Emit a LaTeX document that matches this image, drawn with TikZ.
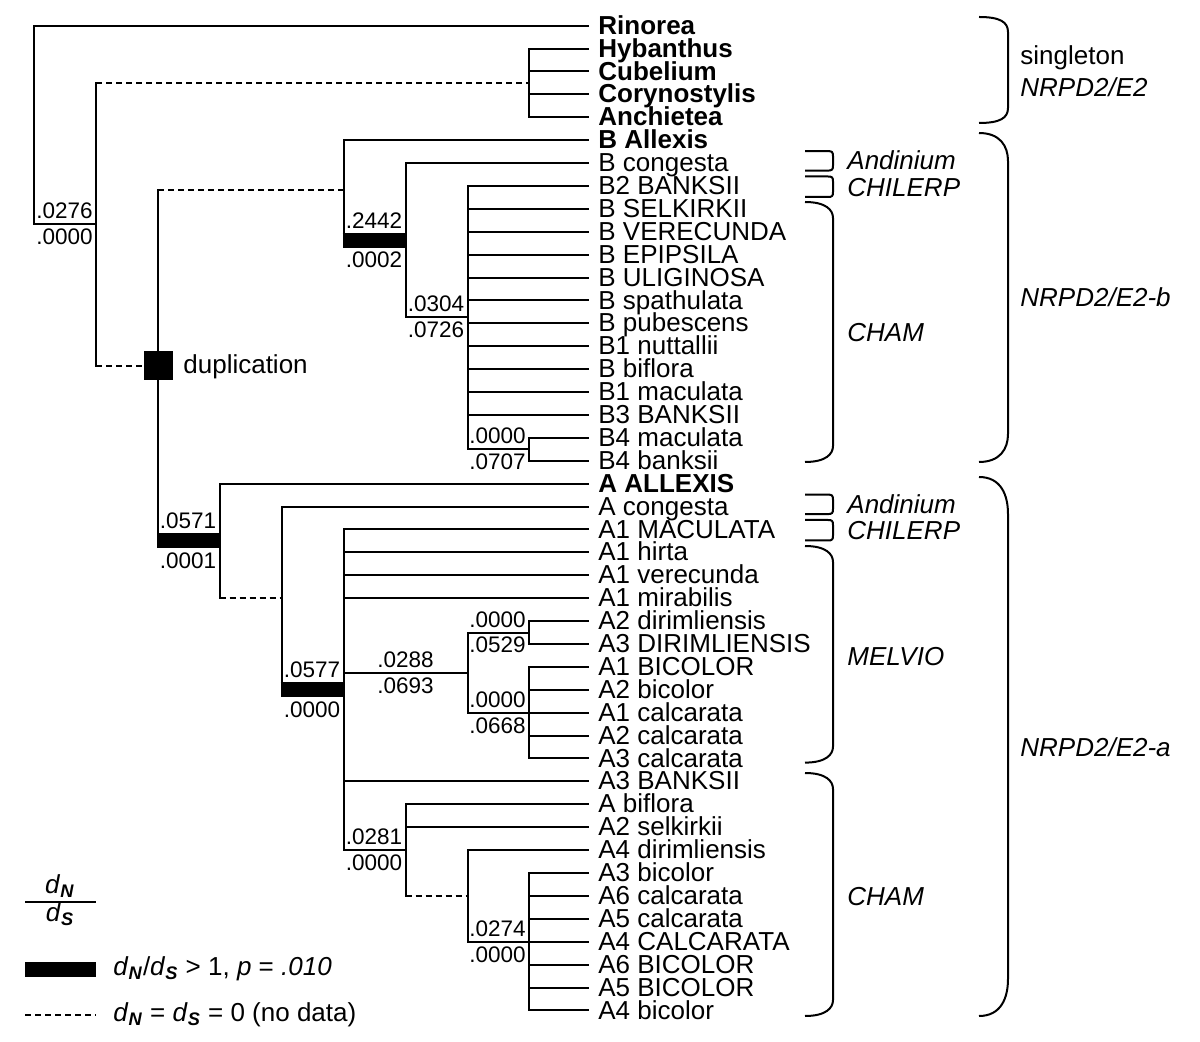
\documentclass[tikz,border=0pt]{standalone}
\usepackage{fontspec}
\setmainfont{Liberation Sans}
\newcommand{\dNx}{\textit{d}\textsubscript{\textbf{\textit{N}}}}
\newcommand{\dSx}{\textit{d}\textsubscript{\textbf{\textit{S}}}}
\begin{document}
\begin{tikzpicture}[x=0.5pt,y=-0.5pt,
  tree/.style={line width=1pt, line cap=rect},
  nodata/.style={line width=1pt, dash pattern=on 3pt off 2pt},
  selbar/.style={line width=7.5pt, shorten <=-0.5pt, shorten >=-0.5pt},
  leafn/.style={anchor=base west, inner sep=0pt, font=\fontsize{13}{14}\selectfont},
  leafb/.style={anchor=base west, inner sep=0pt, font=\fontsize{13}{14}\selectfont\bfseries},
  grp/.style={anchor=base west, inner sep=0pt, font=\fontsize{13}{14}\selectfont\itshape},
  grpu/.style={anchor=base west, inner sep=0pt, font=\fontsize{13}{14}\selectfont},
  labup/.style={anchor=base east, inner sep=0pt, font=\fontsize{11.25}{12}\selectfont},
  labdn/.style={anchor=north east, inner sep=0pt, font=\fontsize{11.25}{12}\selectfont},
  brk/.style={line width=1pt},
]
\useasboundingbox (0,0) rectangle (1200,1042);

% ---------- leaves ----------
\foreach \i/\t/\s in {
 0/Rinorea/leafb, 1/Hybanthus/leafb, 2/Cubelium/leafb, 3/Corynostylis/leafb, 4/Anchietea/leafb,
 5/B Allexis/leafb, 6/B congesta/leafn, 7/B2 BANKSII/leafn, 8/B SELKIRKII/leafn, 9/B VERECUNDA/leafn,
 10/B EPIPSILA/leafn, 11/B ULIGINOSA/leafn, 12/B spathulata/leafn, 13/B pubescens/leafn,
 14/B1 nuttallii/leafn, 15/B biflora/leafn, 16/B1 maculata/leafn, 17/B3 BANKSII/leafn,
 18/B4 maculata/leafn, 19/B4 banksii/leafn,
 20/A ALLEXIS/leafb, 21/A congesta/leafn, 22/A1 MACULATA/leafn, 23/A1 hirta/leafn,
 24/A1 verecunda/leafn, 25/A1 mirabilis/leafn, 26/A2 dirimliensis/leafn, 27/A3 DIRIMLIENSIS/leafn,
 28/A1 BICOLOR/leafn, 29/A2 bicolor/leafn, 30/A1 calcarata/leafn, 31/A2 calcarata/leafn,
 32/A3 calcarata/leafn, 33/A3 BANKSII/leafn, 34/A biflora/leafn, 35/A2 selkirkii/leafn,
 36/A4 dirimliensis/leafn, 37/A3 bicolor/leafn, 38/A6 calcarata/leafn, 39/A5 calcarata/leafn,
 40/A4 CALCARATA/leafn, 41/A6 BICOLOR/leafn, 42/A5 BICOLOR/leafn, 43/A4 bicolor/leafn}{
  \coordinate (e\i) at (588,{25.7+22.9*\i});
  \node[\s] (t\i) at (598,{25.7+22.9*\i+8.6}) {\t};
}

% ---------- internal nodes ----------
\coordinate (r)   at (34,224.3);
\coordinate (n1)  at (96,224.3);
\coordinate (nH)  at (529,82.95);
\coordinate (nD)  at (158,365.65);
\coordinate (nB)  at (343.5,190.35);
\coordinate (nBc) at (405.5,240.5);
\coordinate (nBp) at (467.5,317);
\coordinate (nB4) at (529,449.35);
\coordinate (nA)  at (219.5,540.95);
\coordinate (nA2) at (281.5,598.2);
\coordinate (nA3) at (343.5,689.8);
\coordinate (nM)  at (467.5,672.6);
\coordinate (nM2) at (529,632.55);
\coordinate (nM3) at (529,712.7);
\coordinate (nC2) at (405.5,850.1);
\coordinate (nC3) at (467.5,895.9);
\coordinate (nC4) at (529,941.7);

% root
\draw[tree] (e0) -| (r) -- (n1);
% n1
\draw[tree] (n1 |- nH) -- (n1 |- nD);
\draw[nodata] (n1 |- nH) -- (nH);
% Hybanthus clade
\draw[tree] (nH |- e1) -- (nH |- e4);
\foreach \i in {1,...,4} \draw[tree] (nH |- e\i) -- (e\i);
% duplication node
\draw[tree] (nD |- nB) -- (nD |- nA);
\draw[nodata] (nD |- nB) -- (nB);
\draw[selbar] (nD |- nA) -- (nA);
% B clade
\draw[tree] (nB |- e5) -- (nB |- nBc);
\draw[tree] (nB |- e5) -- (e5);
\draw[selbar] (nB |- nBc) -- (nBc);
\draw[tree] (nBc |- e6) -- (nBc |- nBp);
\draw[tree] (nBc |- e6) -- (e6);
\draw[tree] (nBc |- nBp) -- (nBp);
\draw[tree] (nBp |- e7) -- (nBp |- nB4);
\foreach \i in {7,...,17} \draw[tree] (nBp |- e\i) -- (e\i);
\draw[tree] (nBp |- nB4) -- (nB4);
\draw[tree] (nB4 |- e18) -- (nB4 |- e19);
\foreach \i in {18,19} \draw[tree] (nB4 |- e\i) -- (e\i);
% A clade
\draw[tree] (nA |- e20) -- (nA |- nA2);
\draw[tree] (nA |- e20) -- (e20);
\draw[nodata] (nA |- nA2) -- (nA2);
\draw[tree] (nA2 |- e21) -- (nA2 |- nA3);
\draw[tree] (nA2 |- e21) -- (e21);
\draw[selbar] (nA2 |- nA3) -- (nA3);
\draw[tree] (nA3 |- e22) -- (nA3 |- nC2);
\foreach \i in {22,...,25,33} \draw[tree] (nA3 |- e\i) -- (e\i);
\draw[tree] (nA3 |- nM) -- (nM);
\draw[tree] (nA3 |- nC2) -- (nC2);
\draw[tree] (nM |- nM2) -- (nM |- nM3);
\draw[tree] (nM |- nM2) -- (nM2);
\draw[tree] (nM |- nM3) -- (nM3);
\draw[tree] (nM2 |- e26) -- (nM2 |- e27);
\foreach \i in {26,27} \draw[tree] (nM2 |- e\i) -- (e\i);
\draw[tree] (nM3 |- e28) -- (nM3 |- e32);
\foreach \i in {28,...,32} \draw[tree] (nM3 |- e\i) -- (e\i);
\draw[tree] (nC2 |- e34) -- (nC2 |- nC3);
\foreach \i in {34,35} \draw[tree] (nC2 |- e\i) -- (e\i);
\draw[nodata] (nC2 |- nC3) -- (nC3);
\draw[tree] (nC3 |- e36) -- (nC3 |- nC4);
\draw[tree] (nC3 |- e36) -- (e36);
\draw[tree] (nC3 |- nC4) -- (nC4);
\draw[tree] (nC4 |- e37) -- (nC4 |- e43);
\foreach \i in {37,...,43} \draw[tree] (nC4 |- e\i) -- (e\i);

% duplication square
\node[fill=black, minimum size=14.5pt, inner sep=0pt] (dup) at (nD) {};
\draw[nodata] (n1 |- nD) -- (dup.west);
\node[leafn] (duplab) at (183,374) {duplication};

% ---------- branch labels ----------
\node[labup] (l1a) at (93,218.8) {.0276};
\node[labdn] (l1b) at (93,228.6) {.0000};
\node[labup] (l2a) at (402.5,228.5) {.2442};
\node[labdn] (l2b) at (402.5,251.8) {.0002};
\node[labup] (l3a) at (464.5,311.5) {.0304};
\node[labdn] (l3b) at (464.5,321.3) {.0726};
\node[labup] (l4a) at (526,443.85) {.0000};
\node[labdn] (l4b) at (526,453.65) {.0707};
\node[labup] (l5a) at (216.5,528.95) {.0571};
\node[labdn] (l5b) at (216.5,552.25) {.0001};
\node[labup] (l6a) at (340.5,677.8) {.0577};
\node[labdn] (l6b) at (340.5,701.1) {.0000};
\node[labup, anchor=base] (l7a) at (405.5,667.1) {.0288};
\node[labdn, anchor=north] (l7b) at (405.5,676.9) {.0693};
\node[labup] (l8a) at (526,627.05) {.0000};
\node[labdn] (l8b) at (526,636.85) {.0529};
\node[labup] (l9a) at (526,707.2) {.0000};
\node[labdn] (l9b) at (526,717) {.0668};
\node[labup] (l10a) at (402.5,844.6) {.0281};
\node[labdn] (l10b) at (402.5,854.4) {.0000};
\node[labup] (l11a) at (526,936.2) {.0274};
\node[labdn] (l11b) at (526,946) {.0000};

% ---------- brackets ----------
% large
\draw[brk] (979,17) .. controls (1000,17) and (1008,22) .. (1008,32) -- (1008,108) .. controls (1008,118) and (1000,123) .. (979,123);
\draw[brk] (979,133) .. controls (1000,133) and (1008,146) .. (1008,161) -- (1008,434) .. controls (1008,449) and (1000,462) .. (979,462);
\draw[brk] (979,477) .. controls (1001,477) and (1008,495) .. (1008,514) -- (1008,979) .. controls (1008,998) and (1001,1016) .. (979,1016);
% medium
\draw[brk] (805,202) .. controls (826,202) and (833,210) .. (833,218) -- (833,446) .. controls (833,454) and (826,462) .. (805,462);
\draw[brk] (805,546) .. controls (826,546) and (833,554) .. (833,562) -- (833,746.6) .. controls (833,754.6) and (826,762.6) .. (805,762.6);
\draw[brk] (805,773) .. controls (826,773) and (833,781) .. (833,789) -- (833,1000) .. controls (833,1008) and (826,1016) .. (805,1016);
% small
\foreach \t/\b in {151.1/170.6, 176.5/197, 494.6/514.1, 520/540.5}{
  \draw[brk] (805,\t) -- (828,\t) .. controls (832,\t) and (833,\t+1) .. (833,\t+5) -- (833,\b-5) .. controls (833,\b-1) and (832,\b) .. (828,\b) -- (805,\b);
}

% ---------- group labels ----------
\node[grpu] (g1) at (1020,65) {singleton};
\node[grp] (g2) at (1020,96.7) {NRPD2/E2};
\node[grp] (g3) at (1020,306.7) {NRPD2/E2-b};
\node[grp] (g4) at (1020,756.3) {NRPD2/E2-a};
\node[grp] (g5) at (847,170) {Andinium};
\node[grp] (g6) at (847,196.7) {CHILERP};
\node[grp] (g7) at (847,341.7) {CHAM};
\node[grp] (g8) at (847,514) {Andinium};
\node[grp] (g9) at (847,540) {CHILERP};
\node[grp] (g10) at (847,665.3) {MELVIO};
\node[grp] (g11) at (847,905) {CHAM};

% ---------- legend ----------
\coordinate (fr1) at (25,902);
\coordinate (fr2) at (96,902);
\draw[tree, line cap=butt] (fr1) -- (fr2);
\node[leafn, anchor=base] (fdn) at (60,893) {\dNx};
\node[leafn, anchor=base] (fds) at (60,921.5) {\dSx};
\node[fill=black, minimum width=35.5pt, minimum height=7.3pt, inner sep=0pt, anchor=north west] (legbar) at (25,961.5) {};
\node[leafn] (leg1) at (113,975) {\dNx/\dSx{} > 1, \textit{p} = \textit{.010}};
\coordinate (dl1) at (25,1015);
\coordinate (dl2) at (96,1015);
\draw[nodata] (dl1) -- (dl2);
\node[leafn] (leg2) at (113,1021) {\dNx{} = \dSx{} = 0 (no data)};
\end{tikzpicture}
\end{document}
